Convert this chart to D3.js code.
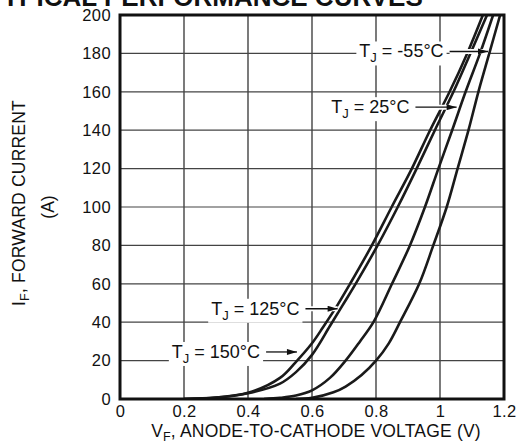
<!DOCTYPE html>
<html>
<head>
<meta charset="utf-8">
<script src="https://cdn.jsdelivr.net/npm/d3@7"></script>
<style>
  body { margin: 0; background: #fff; }
  text { font-family: "Liberation Sans", Arial, sans-serif; fill: #111; }
</style>
</head>
<body>
<div id="chart"></div>
<script>
// forward voltage (V) / current (A)
const i150 = [0, 0.8, 3.2, 11, 19, 29, 37.5, 49, 60, 80, 100, 120, 140, 160, 180, 200];
const v150 = [0.2, 0.3, 0.4, 0.5, 0.548, 0.6, 0.635, 0.68, 0.719, 0.787, 0.849, 0.912, 0.969, 1.03, 1.085, 1.134];
const i125 = [0, 0.7, 3, 8, 14, 23, 38, 50, 61, 80, 100, 120, 140, 160, 180, 200];
const v125 = [0.2, 0.3, 0.4, 0.5, 0.55, 0.6, 0.656, 0.7, 0.74, 0.805, 0.868, 0.927, 0.984, 1.042, 1.095, 1.147];
const i25 = [0, 0.6, 1.8, 4.5, 11, 20, 30, 40, 60, 80, 100, 120, 140, 160, 180, 200];
const v25 = [0.45, 0.5, 0.55, 0.6, 0.656, 0.705, 0.75, 0.792, 0.85, 0.906, 0.953, 0.995, 1.038, 1.08, 1.125, 1.166];
const iM55 = [0, 0.6, 3.5, 6.5, 12.5, 20, 29, 40, 60, 80, 100, 120, 140, 160, 180, 200];
const vM55 = [0.55, 0.6, 0.667, 0.705, 0.755, 0.8, 0.84, 0.875, 0.935, 0.979, 1.021, 1.055, 1.089, 1.12, 1.154, 1.188];

const xTicks = [0, 0.2, 0.4, 0.6, 0.8, 1, 1.2];
const yTicks = [0, 20, 40, 60, 80, 100, 120, 140, 160, 180, 200];

// labels: temperature, label start (V, A), arrow tip (V, A)
const labelTemps = ["-55", "25", "125", "150"];
const labelAt = [[0.748, 181], [0.66, 152], [0.285, 47], [0.162, 24.5]];
const arrowTo = [[1.15, 181], [1.052, 152], [0.68, 47], [0.553, 24.5]];

const series = [
  { v: v150, i: i150 },
  { v: v125, i: i125 },
  { v: v25, i: i25 },
  { v: vM55, i: iM55 }
];

var margin = { top: 15, right: 14, bottom: 46, left: 120 },
    width = 518 - margin.left - margin.right,
    height = 445 - margin.top - margin.bottom;

var svg = d3.select("#chart").append("svg")
    .attr("width", 518)
    .attr("height", 445);

// cropped title at the very top
svg.append("text")
    .attr("x", -14).attr("y", 6)
    .style("font-size", "26px")
    .style("font-weight", "bold")
    .text("TYPICAL PERFORMANCE CURVES");

var g = svg.append("g")
    .attr("transform", `translate(${margin.left},${margin.top})`);

var x = d3.scaleLinear().domain([0, 1.2]).range([0, width]);
var y = d3.scaleLinear().domain([0, 200]).range([height, 0]);

// grid
g.append("g").selectAll("line").data(xTicks.slice(1, -1)).join("line")
    .attr("x1", d => x(d)).attr("x2", d => x(d))
    .attr("y1", 0).attr("y2", height)
    .attr("stroke", "#222").attr("stroke-width", 1.2);
g.append("g").selectAll("line").data(yTicks.slice(1, -1)).join("line")
    .attr("x1", 0).attr("x2", width)
    .attr("y1", d => y(d)).attr("y2", d => y(d))
    .attr("stroke", "#444").attr("stroke-width", 1.2);

// axes (labels only, frame drawn separately)
var xAxis = g.append("g")
    .attr("transform", `translate(0,${height})`)
    .call(d3.axisBottom(x).tickValues(xTicks).tickSize(0).tickPadding(6).tickFormat(d3.format("")));
var yAxis = g.append("g")
    .call(d3.axisLeft(y).tickValues(yTicks).tickSize(0).tickPadding(9));
[xAxis, yAxis].forEach(a => {
  a.select(".domain").remove();
  a.selectAll("text").style("font-size", "16.5px").attr("fill", "#111")
    .style("font-family", "'Liberation Sans', Arial, sans-serif")
    .style("letter-spacing", "0.4px");
});

g.append("clipPath").attr("id", "clip")
  .append("rect").attr("width", width).attr("height", height);

var line = d3.line()
    .x(d => x(d[0]))
    .y(d => y(d[1]))
    .curve(d3.curveCatmullRom.alpha(0.5));

g.append("g").attr("clip-path", "url(#clip)")
  .selectAll("path").data(series).join("path")
    .attr("fill", "none")
    .attr("stroke", "#1a1a1a")
    .attr("stroke-width", 2.6)
    .attr("d", s => line(s.v.map((v, k) => [v, s.i[k]])));

// arrow marker
svg.append("defs").append("marker")
    .attr("id", "arrow")
    .attr("viewBox", "0 0 10 6")
    .attr("refX", 10).attr("refY", 3)
    .attr("markerWidth", 11).attr("markerHeight", 6)
    .attr("markerUnits", "userSpaceOnUse")
    .attr("orient", "auto")
  .append("path").attr("d", "M0,0L10,3L0,6Z").attr("fill", "#111");

// labels with white backing so lines break around them
var labels = g.append("g");
labelTemps.forEach((t, k) => {
  var lx = x(labelAt[k][0]), ly = y(labelAt[k][1]);
  var tx = x(arrowTo[k][0]);
  var lg = labels.append("g");
  var txt = lg.append("text")
      .attr("x", lx).attr("y", ly + 6)
      .style("font-size", "18px");
  txt.append("tspan").text("T");
  txt.append("tspan").attr("dy", 5).style("font-size", "13px").text("J");
  txt.append("tspan").attr("dy", -5).text(" = " + t + "°C");
  var bb = txt.node().getBBox();
  lg.insert("rect", "text")
      .attr("x", bb.x - 3).attr("y", bb.y)
      .attr("width", bb.width + 6).attr("height", bb.height)
      .attr("fill", "#fff");
  lg.append("line")
      .attr("x1", bb.x + bb.width + 6).attr("x2", tx)
      .attr("y1", ly).attr("y2", ly)
      .attr("stroke", "#fff").attr("stroke-width", 5);
  lg.append("line")
      .attr("x1", bb.x + bb.width + 6).attr("x2", tx)
      .attr("y1", ly).attr("y2", ly)
      .attr("stroke", "#111").attr("stroke-width", 1.3)
      .attr("marker-end", "url(#arrow)");
});

// frame
g.append("rect")
    .attr("width", width).attr("height", height)
    .attr("fill", "none").attr("stroke", "#111").attr("stroke-width", 3);

// axis titles
var xt = svg.append("text")
    .attr("x", margin.left + width / 2 + 4).attr("y", 437)
    .attr("text-anchor", "middle")
    .style("font-size", "17.5px")
    .style("letter-spacing", "0.2px");
xt.append("tspan").text("V");
xt.append("tspan").attr("dy", 4).style("font-size", "12.5px").text("F");
xt.append("tspan").attr("dy", -4).text(", ANODE-TO-CATHODE VOLTAGE (V)");

var yt = svg.append("text")
    .attr("transform", `translate(25,${margin.top + height / 2 - 4}) rotate(-90)`)
    .attr("text-anchor", "middle")
    .style("font-size", "17.5px")
    .style("letter-spacing", "0.2px");
yt.append("tspan").text("I");
yt.append("tspan").attr("dy", 4).style("font-size", "12.5px").text("F");
yt.append("tspan").attr("dy", -4).text(", FORWARD CURRENT");

svg.append("text")
    .attr("transform", `translate(54,${margin.top + height / 2}) rotate(-90)`)
    .attr("text-anchor", "middle")
    .style("font-size", "17.5px")
    .text("(A)");
</script>
</body>
</html>
